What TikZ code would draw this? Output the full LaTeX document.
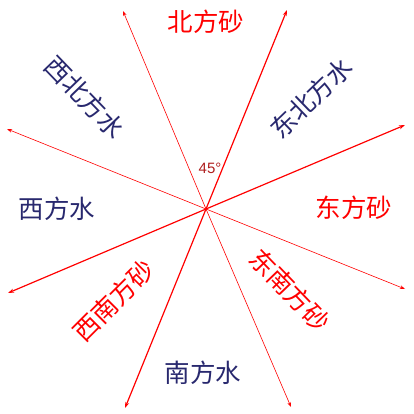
\documentclass[tikz,border=0pt]{standalone}
\usepackage{fontspec}
\newfontfamily\cjk{Noto Sans CJK SC}
\setmainfont{Liberation Sans}
\usetikzlibrary{arrows.meta}
\definecolor{navytext}{RGB}{40,40,110}
\definecolor{degred}{RGB}{175,30,30}
\tikzset{
  thinray/.style={draw=red, line width=0.6pt, {Stealth[length=5pt,width=3.5pt]}-{Stealth[length=5pt,width=3.5pt]}},
  thickray/.style={draw=red, line width=1.2pt, {Stealth[length=6pt,width=4pt]}-{Stealth[length=6pt,width=4pt]}},
  lbl/.style={font=\cjk\fontsize{25.5}{25.5}\selectfont, inner sep=0pt},
}
\begin{document}
\begin{tikzpicture}[x=1pt,y=-1pt]
\useasboundingbox (0,0) rectangle (413,414);
\coordinate (O) at (206,209);
\coordinate (A1) at (125,408);
\coordinate (A2) at (287,10);
\coordinate (B1) at (8,293);
\coordinate (B2) at (405,125);
\coordinate (C1) at (123,11);
\coordinate (C2) at (291,407);
\coordinate (D1) at (7,129);
\coordinate (D2) at (405,289);
\draw[thinray] (C1) -- (O) -- (C2);
\draw[thinray] (D1) -- (O) -- (D2);
\draw[thickray] (A1) -- (O) -- (A2);
\draw[thickray] (B1) -- (O) -- (B2);
\node[lbl, text=red] (n) at (206,22) {北方砂};
\node[lbl, text=navytext] (s) at (203,373) {南方水};
\node[lbl, text=navytext] (w) at (57,209) {西方水};
\node[lbl, text=red] (e) at (354,208) {东方砂};
\node[lbl, text=navytext, rotate=-46] (nw) at (85,97) {西北方水};
\node[lbl, text=navytext, rotate=44] (ne) at (311,98) {东北方水};
\node[lbl, text=red, rotate=45] (sw) at (114,301) {西南方砂};
\node[lbl, text=red, rotate=-46] (se) at (290,290) {东南方砂};
\node[text=degred, font=\fontsize{15}{15}\selectfont, inner sep=0pt] (deg) at (210,168) {45°};
\end{tikzpicture}
\end{document}
